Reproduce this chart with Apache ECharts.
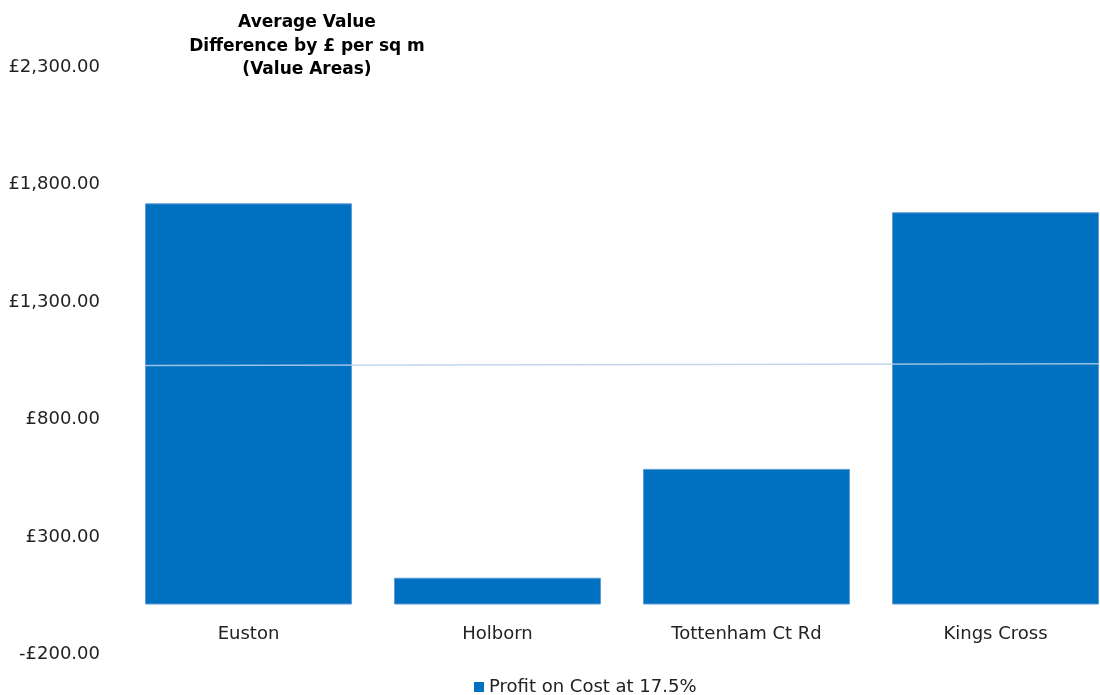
<!DOCTYPE html>
<html>
<head>
<meta charset="utf-8">
<script src="https://cdn.jsdelivr.net/npm/echarts@6/dist/echarts.min.js"></script>
<style>html,body{margin:0;padding:0;background:#fff;overflow:hidden;width:1100px;height:695px}#c{width:1120px;height:695px}</style>
</head>
<body>
<div id="c"></div>
<script>
const categories = ['Euston', 'Holborn', 'Tottenham Ct Rd', 'Kings Cross'];
const profitValues = [1707, 114, 577, 1669];
const seriesName = 'Profit on Cost at 17.5%';
// faint straight line across the bars: [category position, value]
const linePoints = [[0.085, 1017], [3.915, 1025]];
const yMin = -200, yMax = 2300, yInterval = 500;

function money(v) {
  const s = Math.abs(v).toFixed(2).replace(/\B(?=(\d{3})+(?!\d))/g, ',');
  return '{v|' + (v < 0 ? '-£' : '£') + s + '}';
}

const FONT = 'DejaVu Sans, Liberation Sans, Arial, sans-serif';
const chart = echarts.init(document.getElementById('c'));
chart.setOption({
  animation: false,
  textStyle: { fontFamily: FONT },
  title: {
    text: 'Average Value\nDifference by £ per sq m\n(Value Areas)',
    left: 302, top: 6, textAlign: 'center',
    textStyle: { fontSize: 17, fontWeight: 'bold', color: '#000', lineHeight: 23.5, fontFamily: FONT }
  },
  legend: {
    data: [seriesName],
    bottom: -1, left: 474, padding: 0,
    itemWidth: 10, itemHeight: 10,
    icon: 'rect',
    itemStyle: { borderWidth: 0 },
    textStyle: { fontSize: 18, color: '#222', fontFamily: FONT }
  },
  grid: { left: 124, width: 996, top: 64, bottom: 43.5, containLabel: false },
  xAxis: [
    {
      type: 'category', data: categories,
      axisLine: { show: false },
      axisTick: { show: false },
      axisLabel: { fontSize: 18, color: '#222', margin: -26, fontFamily: FONT }
    },
    { type: 'value', min: 0, max: 4, show: false, position: 'top' }
  ],
  yAxis: {
    type: 'value', min: yMin, max: yMax, interval: yInterval,
    axisLine: { show: false }, axisTick: { show: false },
    splitLine: { show: false },
    axisLabel: {
      fontSize: 18, color: '#222', margin: 24, formatter: money, fontFamily: FONT,
      rich: { v: { fontSize: 18, color: '#222', fontFamily: FONT, padding: [6, 0, 0, 0] } }
    }
  },
  series: [
    {
      name: seriesName, type: 'bar', data: profitValues,
      barCategoryGap: '16.9%',
      itemStyle: { color: '#0070c0', borderColor: '#5b9bd5', borderWidth: 1 }
    },
    {
      name: 'line', type: 'line', xAxisIndex: 1, data: linePoints,
      symbol: 'none', silent: true,
      lineStyle: { color: '#b8cfea', width: 1.5, opacity: 0.85 }
    }
  ]
});
</script>
</body>
</html>
